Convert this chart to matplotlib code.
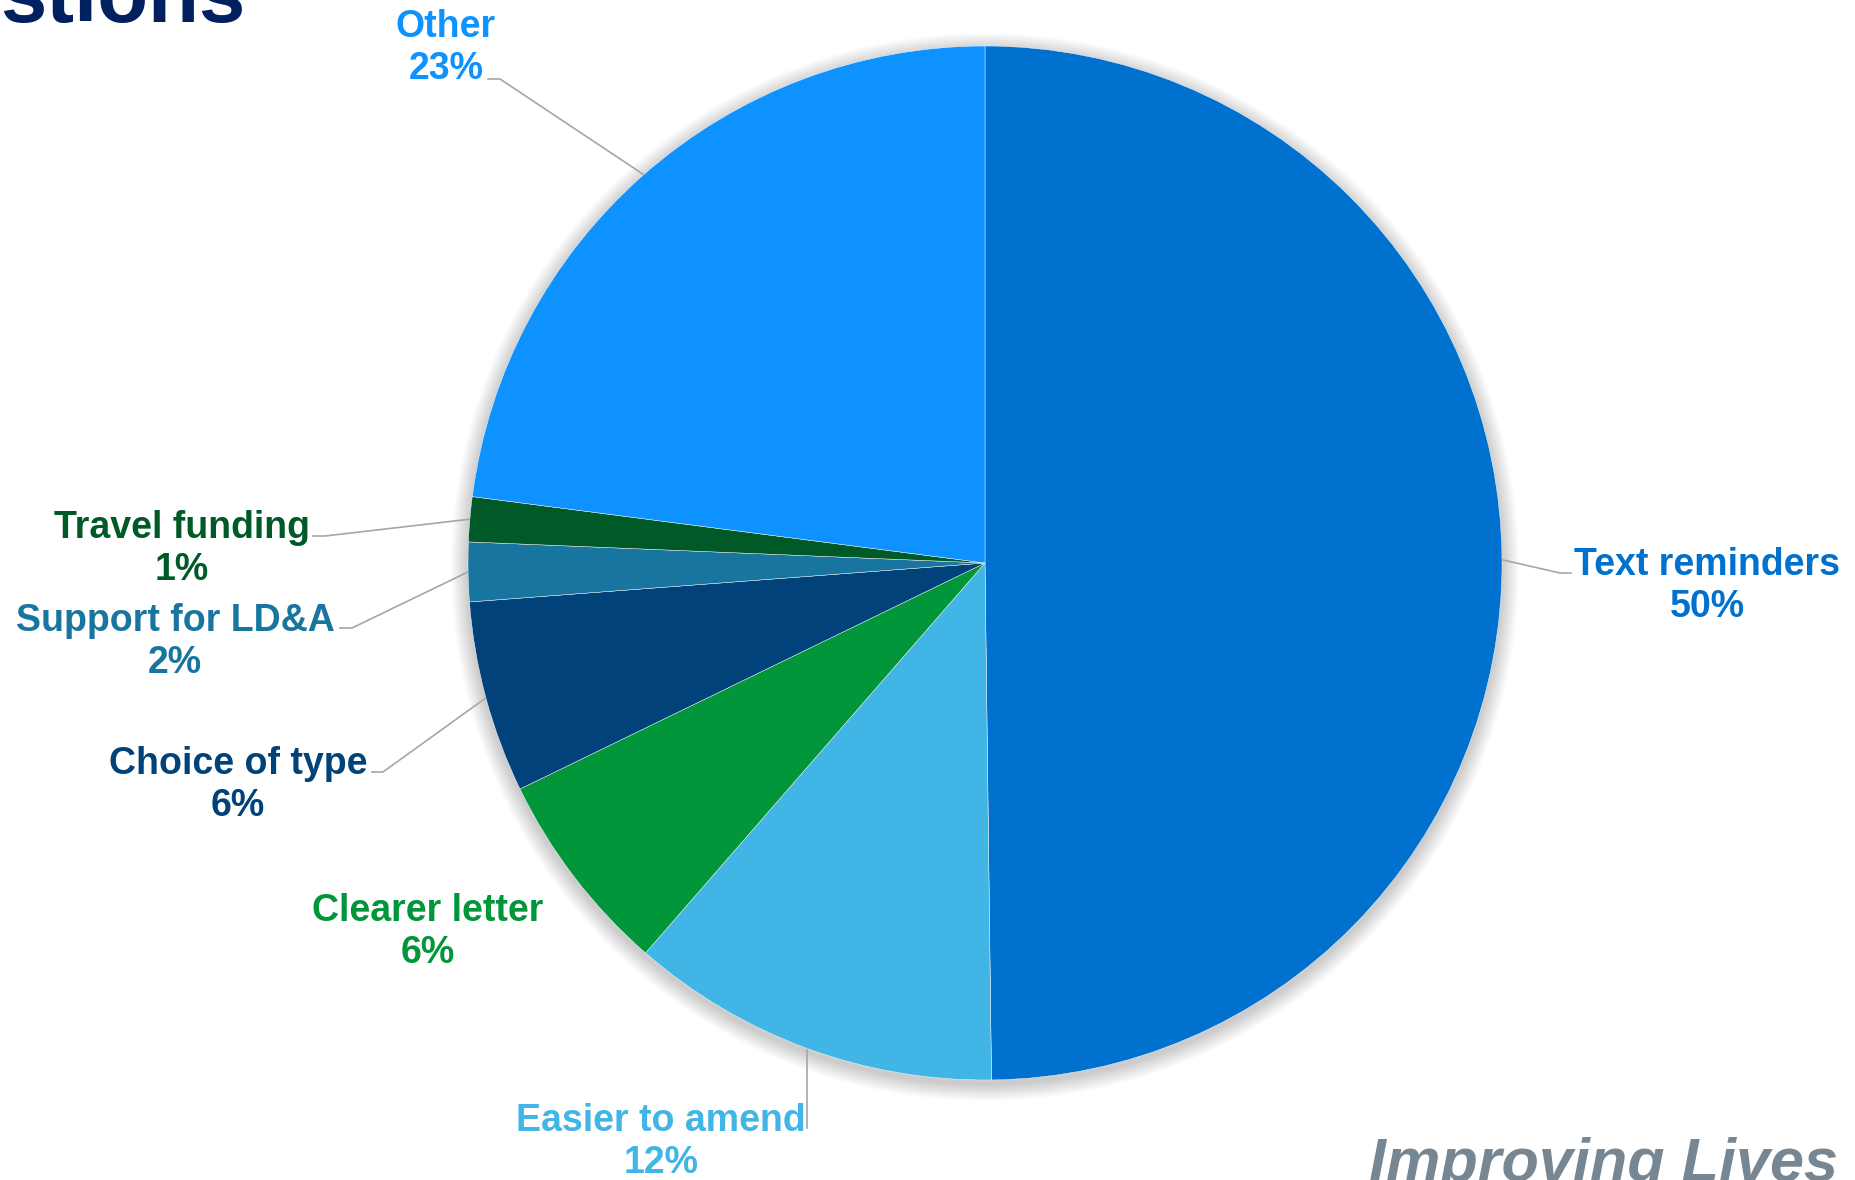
import numpy as np
import matplotlib
matplotlib.use("Agg")
import matplotlib.pyplot as plt
from matplotlib.patches import Circle

# dati (percentuali, in senso orario dall'alto)
categorie = ["Text reminders", "Easier to amend", "Clearer letter", "Choice of type",
             "Support for LD&A", "Travel funding", "Other"]
valori = [49.8, 11.6, 6.4, 6.0, 1.85, 1.4, 22.95]
etichette_pct = ["50%", "12%", "6%", "6%", "2%", "1%", "23%"]
colori = ["#0071CE", "#41B6E6", "#009639", "#01427A", "#1875A0", "#005A28", "#0D92FF"]

W, H = 1855, 1180
plt.rcParams['font.family'] = ['Liberation Sans', 'DejaVu Sans']

fig = plt.figure(figsize=(W / 100, H / 100), dpi=100)
ax = fig.add_axes([0, 0, 1, 1])

# centro e raggio della torta in pixel (y dal basso)
cx, cy, R = 985, H - 563, 517

# ombra morbida
for k in range(1, 18):
    ax.add_patch(Circle((cx, cy - 4), R + k, color="black", alpha=0.011, lw=0, zorder=0))

wedges, _ = ax.pie(valori, colors=colori, startangle=90, counterclock=False,
                   center=(cx, cy), radius=R,
                   wedgeprops=dict(edgecolor="white", linewidth=0.3))
for w in wedges:
    w.set_zorder(2)

# posizione etichette (pixel, dall'alto) e gomiti delle linee guida
pos_etich = [(1707, 586), (661, 1142), (428, 932), (238, 785), (175, 642), (182, 549), (446, 48)]
gomiti = [((1560, 573), (1571, 573)), ("v", 1128), None, ((383, 772), (372, 772)),
          ((352, 628), (340, 628)), ((325, 536), (313, 536)), ((500, 79), (488, 79))]

for w, nome, pct, col, (lx, ly), g in zip(wedges, categorie, etichette_pct, colori, pos_etich, gomiti):
    ang = np.deg2rad((w.theta1 + w.theta2) / 2)
    ex, ey = cx + R * np.cos(ang), cy + R * np.sin(ang)
    if g is not None:
        if g[0] == "v":
            xs, ys = [ex, ex], [ey, H - g[1]]
        else:
            xs = [ex, g[0][0], g[1][0]]
            ys = [ey, H - g[0][1], H - g[1][1]]
        ax.plot(xs, ys, color="#A6A6A6", lw=1.2, zorder=1)
    ax.text(lx, H - ly, nome + "\n" + pct, color=col, fontsize=27, fontweight="bold",
            ha="center", va="center", multialignment="center", linespacing=1.22, zorder=3)

# titolo tagliato e scritta in basso
ax.text(0, H - 22, "stions", color="#002060", fontsize=60, fontweight="bold",
        ha="left", va="baseline")
ax.text(1838, -1, "Improving Lives", color="#768692", fontsize=44, fontweight="bold",
        fontstyle="italic", ha="right", va="baseline")

ax.set_xlim(0, W)
ax.set_ylim(0, H)
ax.axis("off")

fig.savefig("out.png", dpi=100)
